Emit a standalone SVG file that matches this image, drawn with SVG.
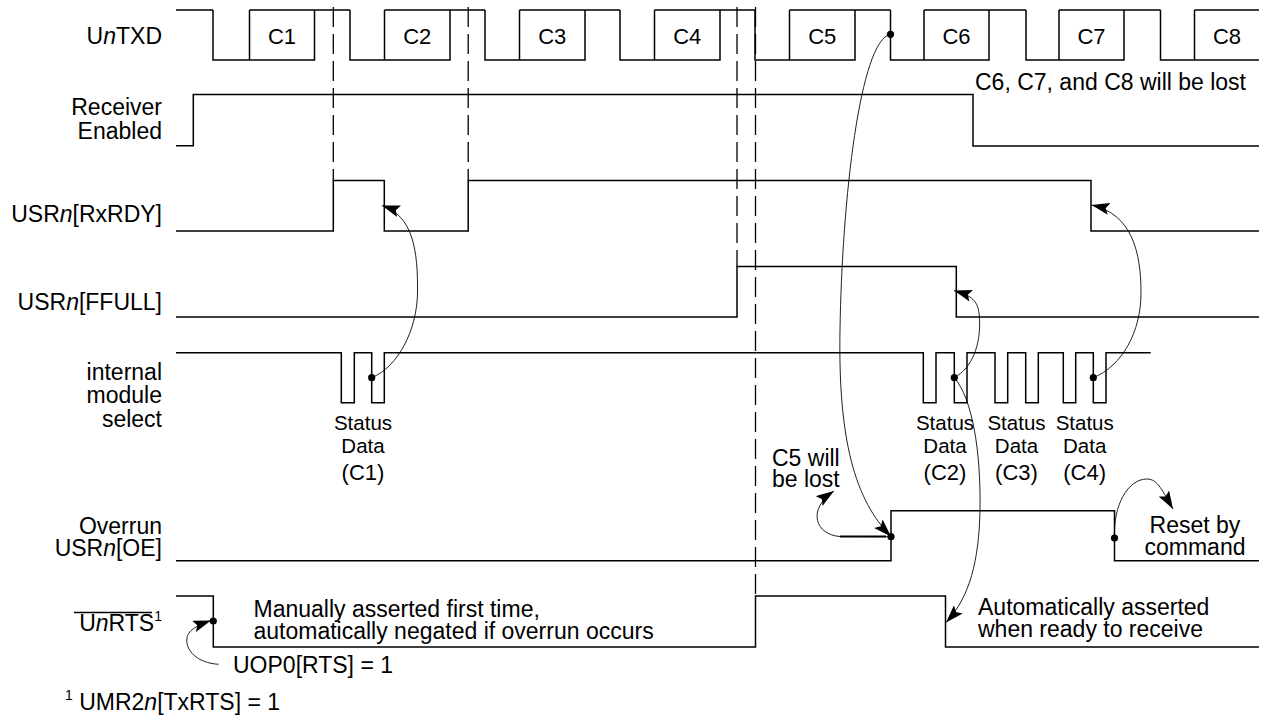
<svg xmlns="http://www.w3.org/2000/svg" width="1267" height="723" viewBox="0 0 1267 723">
<style>
.wave{fill:none;stroke:#000;stroke-width:1.5}
.dash{fill:none;stroke:#000;stroke-width:1.3;stroke-dasharray:20 7}
.conn{fill:none;stroke:#222;stroke-width:1}
.t{font-family:"Liberation Sans",Arial,Helvetica,sans-serif;font-size:23px;fill:#000}
.e{text-anchor:end}
.m{text-anchor:middle}
.c{font-size:22px}
.s{font-size:20.5px}
.i{font-style:italic}
.dot{fill:#000}
</style>
<defs>
<marker id="ah" markerUnits="userSpaceOnUse" markerWidth="19" markerHeight="13" refX="18" refY="6" orient="auto">
<path d="M0,0 L18,6 L0,12 L3.5,6 Z" fill="#000"/>
</marker>
</defs>
<rect width="1267" height="723" fill="#fff"/>

<g id="connectors">
<path class="dash" d="M333.3,7 V180.5 M468.2,7 V180.5 M737,7 V266.5 M755.5,7 V596"/>
<path class="conn" marker-end="url(#ah)" d="M371.7,377.7 C398,367 417,330 417.5,293 C418,250 413,216 382,205.5"/>
<path class="conn" marker-end="url(#ah)" d="M954.3,377.7 C972,368 981,345 979.5,318 C978.5,300 972,296 954,290.5"/>
<path class="conn" marker-end="url(#ah)" d="M1093.3,377.7 C1122,366 1141,332 1141,293 C1141,252 1132,214 1091.5,205"/>
<path class="conn" marker-end="url(#ah)" d="M890.5,34.3 C860,40 842,200 840,330 C838,440 855,500 891,536.5"/>
<path class="conn" marker-end="url(#ah)" d="M891,536.7 L840,536.5 C816,535 806,510 834,491"/>
<line x1="840" y1="536.6" x2="886" y2="536.6" stroke="#000" stroke-width="2"/>
<path class="conn" marker-end="url(#ah)" d="M1114.5,538 C1113,505 1128,479 1147,479 C1158,479 1163,492 1173,509"/>
<path class="conn" marker-end="url(#ah)" d="M954.3,377.7 C972,398 981,450 980,510 C979,560 970,597 946,622.5"/>
<path class="conn" marker-end="url(#ah)" d="M218.5,664.3 C197,663 185,650 187,638 C188,631 195,626 211,620.5"/>
</g>

<g id="txd">
<text class="t e" x="162" y="43.5">U<tspan class="i">n</tspan>TXD</text>
<path class="wave" d="M176,10 H213
M213,10 V60 H314.5 V10 M249.5,10 V60 M249.5,10 H350
M350,10 V60 H450 V10 M384.5,10 V60 M384.5,10 H485
M485,10 V60 H585 V10 M519.5,10 V60 M519.5,10 H620
M620,10 V60 H720 V10 M654.5,10 V60 M654.5,10 H755
M755,10 V60 H855 V10 M789.5,10 V60 M789.5,10 H890.5
M890.5,10 V60 H989 V10 M924,10 V60 M924,10 H1026
M1026,10 V60 H1124 V10 M1059,10 V60 M1059,10 H1160.5
M1160.5,10 V60 H1259 M1194.5,10 V60 M1194.5,10 H1259"/>
<text class="t c m" x="282" y="43.5">C1</text>
<text class="t c m" x="417.3" y="43.5">C2</text>
<text class="t c m" x="552.3" y="43.5">C3</text>
<text class="t c m" x="687.3" y="43.5">C4</text>
<text class="t c m" x="822.3" y="43.5">C5</text>
<text class="t c m" x="956.5" y="43.5">C6</text>
<text class="t c m" x="1091.5" y="43.5">C7</text>
<text class="t c m" x="1227" y="43.5">C8</text>
<circle class="dot" cx="890.5" cy="34.3" r="3.6"/>
</g>

<g id="receiver-enabled">
<text class="t e" x="162" y="115">Receiver</text>
<text class="t e" x="162" y="138.5">Enabled</text>
<path class="wave" d="M176,145.7 H193.3 V94.5 H973 V146 H1259"/>
<text class="t" x="975" y="90">C6, C7, and C8 will be lost</text>
</g>

<g id="rxrdy">
<text class="t e" x="162" y="222">USR<tspan class="i">n</tspan>[RxRDY]</text>
<path class="wave" d="M176,231 H333.3 V180.5 H384.3 V231 H468.2 V180.5 H1091 V231 H1259"/>
</g>

<g id="ffull">
<text class="t e" x="162" y="310">USR<tspan class="i">n</tspan>[FFULL]</text>
<path class="wave" d="M176,317 H737 V266.5 H956.3 V317 H1259"/>
</g>

<g id="module-select">
<text class="t e" x="162" y="380">internal</text>
<text class="t e" x="162" y="403">module</text>
<text class="t e" x="162" y="427">select</text>
<path class="wave" d="M176,352.7 H341.3 V402.7 H354.3 V352.7 H371.7 V402.7 H384.3 V352.7 H923.3 V402.7 H936 V352.7 H954.3 V402.7 H967 V352.7 H995 V402.7 H1007.7 V352.7 H1025.7 V402.7 H1038.3 V352.7 H1063.3 V402.7 H1075.7 V352.7 H1093.3 V402.7 H1106 V352.7 H1150.7"/>
<circle class="dot" cx="371.7" cy="377.7" r="3.6"/>
<circle class="dot" cx="954.3" cy="377.7" r="3.6"/>
<circle class="dot" cx="1093.3" cy="377.7" r="3.6"/>
<text class="t s m" x="363" y="430">Status</text>
<text class="t s m" x="363" y="453.3">Data</text>
<text class="t c m" x="363" y="480">(C1)</text>
<text class="t s m" x="945" y="430">Status</text>
<text class="t s m" x="945" y="453.3">Data</text>
<text class="t c m" x="945" y="480">(C2)</text>
<text class="t s m" x="1016.5" y="430">Status</text>
<text class="t s m" x="1016.5" y="453.3">Data</text>
<text class="t c m" x="1016.5" y="480">(C3)</text>
<text class="t s m" x="1084.7" y="430">Status</text>
<text class="t s m" x="1084.7" y="453.3">Data</text>
<text class="t c m" x="1084.7" y="480">(C4)</text>
</g>

<g id="overrun">
<text class="t e" x="162" y="534">Overrun</text>
<text class="t e" x="162" y="556">USR<tspan class="i">n</tspan>[OE]</text>
<path class="wave" d="M176,560.7 H891 V510.7 H1114.5 V560.7 H1259"/>
<circle class="dot" cx="891" cy="536.7" r="3.6"/>
<circle class="dot" cx="1114.5" cy="538" r="3.6"/>
<text class="t" x="772" y="465.5">C5 will</text>
<text class="t" x="772" y="487">be lost</text>
<text class="t m" x="1195" y="533">Reset by</text>
<text class="t m" x="1195" y="555">command</text>
</g>

<g id="rts">
<text class="t e" x="162" y="631">U<tspan class="i">n</tspan>RTS<tspan font-size="14" dy="-10">1</tspan></text>
<line x1="74" y1="612.5" x2="152" y2="612.5" stroke="#000" stroke-width="1.3"/>
<path class="wave" d="M176,596 H213.3 V647 H755.5 V596 H945.5 V647 H1259"/>
<circle class="dot" cx="213.3" cy="621" r="3.6"/>
<text class="t" x="253.5" y="616.5">Manually asserted first time,</text>
<text class="t" x="253.5" y="638.5">automatically negated if overrun occurs</text>
<text class="t" x="233" y="673">UOP0[RTS] = 1</text>
<text class="t" x="978" y="615">Automatically asserted</text>
<text class="t" x="978" y="637">when ready to receive</text>
</g>

<g id="footnote">
<text class="t" x="65" y="710"><tspan font-size="14" dy="-10">1</tspan><tspan dy="10"> UMR2</tspan><tspan class="i">n</tspan>[TxRTS] = 1</text>
</g>
</svg>
